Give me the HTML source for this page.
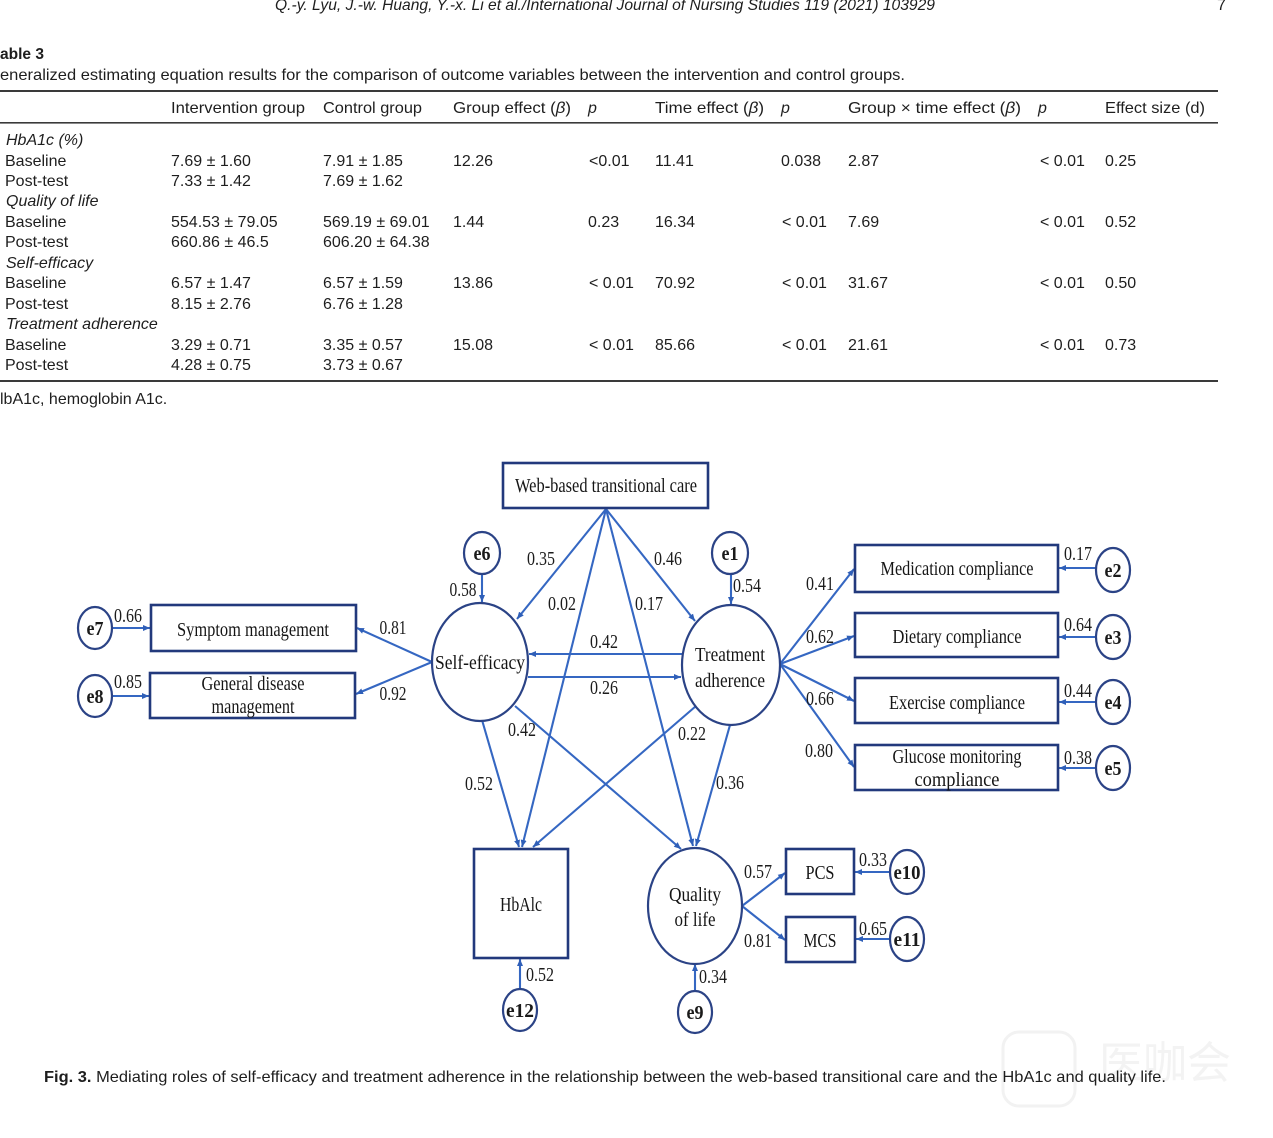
<!DOCTYPE html>
<html>
<head>
<meta charset="utf-8">
<style>
html,body{margin:0;padding:0;background:#fff;}
svg{display:block;}
.t{font-family:"Liberation Sans",sans-serif;font-size:16px;fill:#1e1e1e;}
.i{font-style:italic;}
.d{font-family:"Liberation Serif",serif;font-size:20px;fill:#151515;}
.n{font-family:"Liberation Serif",serif;font-size:20px;fill:#1c1c1c;}
.e{font-family:"Liberation Serif",serif;font-size:20px;font-weight:bold;fill:#1a1a1a;}
.ln{stroke:#3567c2;stroke-width:2.1;fill:none;}
.bx{stroke:#22397c;stroke-width:2.6;fill:#fff;}
.el{stroke:#2b4386;stroke-width:2.2;fill:#fff;}
</style>
</head>
<body>
<svg width="1273" height="1138" viewBox="0 0 1273 1138" xmlns="http://www.w3.org/2000/svg">
<defs>
<marker id="ah" markerWidth="8" markerHeight="8" refX="7" refY="4" orient="auto" markerUnits="userSpaceOnUse">
<path d="M0,1 L7,4 L0,7 z" fill="#2f5fb8"/>
</marker>
</defs>

<!-- Page header -->
<text class="t i" x="275" y="10" font-size="15" textLength="660" lengthAdjust="spacingAndGlyphs">Q.-y. Lyu, J.-w. Huang, Y.-x. Li et al./International Journal of Nursing Studies 119 (2021) 103929</text>
<text class="t" x="1217" y="10" font-size="15">7</text>

<text class="t" x="0" y="59" font-weight="bold" font-size="15" textLength="44" lengthAdjust="spacingAndGlyphs">able 3</text>
<text class="t" x="0" y="80" textLength="905" lengthAdjust="spacingAndGlyphs">eneralized estimating equation results for the comparison of outcome variables between the intervention and control groups.</text>

<!-- Table rules -->
<rect x="0" y="90" width="1218" height="2" fill="#3a3a3a"/>
<rect x="0" y="122" width="1218" height="1.6" fill="#3a3a3a"/>
<rect x="0" y="380" width="1218" height="2" fill="#3a3a3a"/>

<!-- Header -->
<text class="t" x="171" y="113" textLength="134" lengthAdjust="spacingAndGlyphs">Intervention group</text>
<text class="t" x="323" y="113" textLength="99" lengthAdjust="spacingAndGlyphs">Control group</text>
<text class="t" x="453" y="113" textLength="118" lengthAdjust="spacingAndGlyphs">Group effect (<tspan class="i">β</tspan>)</text>
<text class="t i" x="588" y="113">p</text>
<text class="t" x="655" y="113" textLength="109" lengthAdjust="spacingAndGlyphs">Time effect (<tspan class="i">β</tspan>)</text>
<text class="t i" x="781" y="113">p</text>
<text class="t" x="848" y="113" textLength="173" lengthAdjust="spacingAndGlyphs">Group × time effect (<tspan class="i">β</tspan>)</text>
<text class="t i" x="1038" y="113">p</text>
<text class="t" x="1105" y="113" textLength="100" lengthAdjust="spacingAndGlyphs">Effect size (d)</text>

<!-- Rows -->
<text class="t i" x="6" y="145">HbA1c (%)</text>
<text class="t" x="5" y="166">Baseline</text>
<text class="t" x="171" y="166">7.69 ± 1.60</text>
<text class="t" x="323" y="166">7.91 ± 1.85</text>
<text class="t" x="453" y="166">12.26</text>
<text class="t" x="589" y="166">&lt;0.01</text>
<text class="t" x="655" y="166">11.41</text>
<text class="t" x="781" y="166">0.038</text>
<text class="t" x="848" y="166">2.87</text>
<text class="t" x="1040" y="166">&lt; 0.01</text>
<text class="t" x="1105" y="166">0.25</text>
<text class="t" x="5" y="186">Post-test</text>
<text class="t" x="171" y="186">7.33 ± 1.42</text>
<text class="t" x="323" y="186">7.69 ± 1.62</text>

<text class="t i" x="6" y="206">Quality of life</text>
<text class="t" x="5" y="227">Baseline</text>
<text class="t" x="171" y="227">554.53 ± 79.05</text>
<text class="t" x="323" y="227">569.19 ± 69.01</text>
<text class="t" x="453" y="227">1.44</text>
<text class="t" x="588" y="227">0.23</text>
<text class="t" x="655" y="227">16.34</text>
<text class="t" x="782" y="227">&lt; 0.01</text>
<text class="t" x="848" y="227">7.69</text>
<text class="t" x="1040" y="227">&lt; 0.01</text>
<text class="t" x="1105" y="227">0.52</text>
<text class="t" x="5" y="247">Post-test</text>
<text class="t" x="171" y="247">660.86 ± 46.5</text>
<text class="t" x="323" y="247">606.20 ± 64.38</text>

<text class="t i" x="6" y="268">Self-efficacy</text>
<text class="t" x="5" y="288">Baseline</text>
<text class="t" x="171" y="288">6.57 ± 1.47</text>
<text class="t" x="323" y="288">6.57 ± 1.59</text>
<text class="t" x="453" y="288">13.86</text>
<text class="t" x="589" y="288">&lt; 0.01</text>
<text class="t" x="655" y="288">70.92</text>
<text class="t" x="782" y="288">&lt; 0.01</text>
<text class="t" x="848" y="288">31.67</text>
<text class="t" x="1040" y="288">&lt; 0.01</text>
<text class="t" x="1105" y="288">0.50</text>
<text class="t" x="5" y="309">Post-test</text>
<text class="t" x="171" y="309">8.15 ± 2.76</text>
<text class="t" x="323" y="309">6.76 ± 1.28</text>

<text class="t i" x="6" y="329">Treatment adherence</text>
<text class="t" x="5" y="350">Baseline</text>
<text class="t" x="171" y="350">3.29 ± 0.71</text>
<text class="t" x="323" y="350">3.35 ± 0.57</text>
<text class="t" x="453" y="350">15.08</text>
<text class="t" x="589" y="350">&lt; 0.01</text>
<text class="t" x="655" y="350">85.66</text>
<text class="t" x="782" y="350">&lt; 0.01</text>
<text class="t" x="848" y="350">21.61</text>
<text class="t" x="1040" y="350">&lt; 0.01</text>
<text class="t" x="1105" y="350">0.73</text>
<text class="t" x="5" y="370">Post-test</text>
<text class="t" x="171" y="370">4.28 ± 0.75</text>
<text class="t" x="323" y="370">3.73 ± 0.67</text>

<text class="t" x="0" y="404">lbA1c, hemoglobin A1c.</text>

<!-- ===== Diagram connectors ===== -->
<g class="ln" marker-end="url(#ah)">
<line x1="606" y1="509" x2="517" y2="619"/>
<line x1="606" y1="509" x2="695" y2="621"/>
<line x1="606" y1="509" x2="522" y2="847"/>
<line x1="606" y1="509" x2="693" y2="846"/>
<line x1="682" y1="654" x2="529" y2="654"/>
<line x1="528" y1="677" x2="681" y2="677"/>
<line x1="482" y1="574" x2="482" y2="602"/>
<line x1="731" y1="574" x2="731" y2="604"/>
<line x1="432" y1="662" x2="357" y2="628"/>
<line x1="432" y1="662" x2="356" y2="694"/>
<line x1="112" y1="628" x2="150" y2="628"/>
<line x1="112" y1="696" x2="149" y2="696"/>
<line x1="780" y1="664" x2="854" y2="569"/>
<line x1="780" y1="664" x2="854" y2="636"/>
<line x1="780" y1="664" x2="854" y2="701"/>
<line x1="780" y1="664" x2="854" y2="767"/>
<line x1="1096" y1="568" x2="1059" y2="568"/>
<line x1="1096" y1="637" x2="1059" y2="637"/>
<line x1="1096" y1="702" x2="1059" y2="702"/>
<line x1="1096" y1="768" x2="1059" y2="768"/>
<line x1="482" y1="720" x2="519" y2="847"/>
<line x1="696" y1="706" x2="533" y2="847"/>
<line x1="515" y1="706" x2="681" y2="849"/>
<line x1="730" y1="725" x2="696" y2="846"/>
<line x1="742" y1="906" x2="785" y2="873"/>
<line x1="742" y1="906" x2="785" y2="940"/>
<line x1="890" y1="872" x2="855" y2="872"/>
<line x1="890" y1="939" x2="856" y2="939"/>
<line x1="520" y1="989" x2="520" y2="959"/>
<line x1="695" y1="991" x2="695" y2="964"/>
</g>

<!-- ===== Boxes ===== -->
<rect class="bx" x="503" y="463" width="205" height="45"/>
<rect class="bx" x="151" y="605" width="205" height="46"/>
<rect class="bx" x="150" y="673" width="205" height="45"/>
<rect class="bx" x="855" y="545" width="203" height="47"/>
<rect class="bx" x="855" y="613" width="203" height="44"/>
<rect class="bx" x="855" y="678" width="203" height="45"/>
<rect class="bx" x="855" y="745" width="203" height="45"/>
<rect class="bx" x="474" y="849" width="94" height="109"/>
<rect class="bx" x="786" y="849" width="68" height="45"/>
<rect class="bx" x="786" y="917" width="69" height="45"/>

<!-- ===== Ellipses ===== -->
<ellipse class="el" cx="480" cy="662" rx="48" ry="59"/>
<ellipse class="el" cx="731" cy="665" rx="49" ry="60"/>
<ellipse class="el" cx="695" cy="906" rx="47" ry="58"/>
<ellipse class="el" cx="482" cy="553" rx="18" ry="21"/>
<ellipse class="el" cx="730" cy="553" rx="18" ry="21"/>
<ellipse class="el" cx="95" cy="628" rx="17" ry="21"/>
<ellipse class="el" cx="95" cy="696" rx="17" ry="21"/>
<ellipse class="el" cx="1113" cy="570" rx="17" ry="22"/>
<ellipse class="el" cx="1113" cy="637" rx="17" ry="22"/>
<ellipse class="el" cx="1113" cy="702" rx="17" ry="22"/>
<ellipse class="el" cx="1113" cy="768" rx="17" ry="22"/>
<ellipse class="el" cx="907" cy="872" rx="17" ry="22"/>
<ellipse class="el" cx="907" cy="939" rx="17" ry="22"/>
<ellipse class="el" cx="520" cy="1010" rx="17" ry="21"/>
<ellipse class="el" cx="695" cy="1012" rx="17" ry="21"/>

<!-- ===== Node labels ===== -->
<g text-anchor="middle">
<text class="d" x="606" y="492" textLength="182" lengthAdjust="spacingAndGlyphs">Web-based transitional care</text>
<text class="d" x="253" y="636" textLength="152" lengthAdjust="spacingAndGlyphs">Symptom management</text>
<text class="d" x="253" y="690" textLength="103" lengthAdjust="spacingAndGlyphs">General disease</text>
<text class="d" x="253" y="713" textLength="83" lengthAdjust="spacingAndGlyphs">management</text>
<text class="d" x="480" y="669" textLength="90" lengthAdjust="spacingAndGlyphs">Self-efficacy</text>
<text class="d" x="730" y="661" textLength="70" lengthAdjust="spacingAndGlyphs">Treatment</text>
<text class="d" x="730" y="687" textLength="70" lengthAdjust="spacingAndGlyphs">adherence</text>
<text class="d" x="957" y="575" textLength="153" lengthAdjust="spacingAndGlyphs">Medication compliance</text>
<text class="d" x="957" y="643" textLength="129" lengthAdjust="spacingAndGlyphs">Dietary compliance</text>
<text class="d" x="957" y="709" textLength="136" lengthAdjust="spacingAndGlyphs">Exercise compliance</text>
<text class="d" x="957" y="763" textLength="129" lengthAdjust="spacingAndGlyphs">Glucose monitoring</text>
<text class="d" x="957" y="786" textLength="85" lengthAdjust="spacingAndGlyphs">compliance</text>
<text class="d" x="521" y="911" textLength="42" lengthAdjust="spacingAndGlyphs">HbAlc</text>
<text class="d" x="695" y="901" textLength="52" lengthAdjust="spacingAndGlyphs">Quality</text>
<text class="d" x="695" y="926" textLength="41" lengthAdjust="spacingAndGlyphs">of life</text>
<text class="d" x="820" y="879" textLength="29" lengthAdjust="spacingAndGlyphs">PCS</text>
<text class="d" x="820" y="947" textLength="33" lengthAdjust="spacingAndGlyphs">MCS</text>

<text class="e" x="482" y="560" textLength="17" lengthAdjust="spacingAndGlyphs">e6</text>
<text class="e" x="730" y="560" textLength="17" lengthAdjust="spacingAndGlyphs">e1</text>
<text class="e" x="95" y="635" textLength="17" lengthAdjust="spacingAndGlyphs">e7</text>
<text class="e" x="95" y="703" textLength="17" lengthAdjust="spacingAndGlyphs">e8</text>
<text class="e" x="1113" y="577" textLength="17" lengthAdjust="spacingAndGlyphs">e2</text>
<text class="e" x="1113" y="644" textLength="17" lengthAdjust="spacingAndGlyphs">e3</text>
<text class="e" x="1113" y="709" textLength="17" lengthAdjust="spacingAndGlyphs">e4</text>
<text class="e" x="1113" y="775" textLength="17" lengthAdjust="spacingAndGlyphs">e5</text>
<text class="e" x="907" y="879" textLength="27" lengthAdjust="spacingAndGlyphs">e10</text>
<text class="e" x="907" y="946" textLength="27" lengthAdjust="spacingAndGlyphs">e11</text>
<text class="e" x="520" y="1017" textLength="28" lengthAdjust="spacingAndGlyphs">e12</text>
<text class="e" x="695" y="1019" textLength="17" lengthAdjust="spacingAndGlyphs">e9</text>

<!-- coefficient labels -->
<text class="n" x="128" y="622" textLength="28" lengthAdjust="spacingAndGlyphs">0.66</text>
<text class="n" x="128" y="688" textLength="28" lengthAdjust="spacingAndGlyphs">0.85</text>
<text class="n" x="393" y="634" textLength="27" lengthAdjust="spacingAndGlyphs">0.81</text>
<text class="n" x="393" y="700" textLength="27" lengthAdjust="spacingAndGlyphs">0.92</text>
<text class="n" x="463" y="596" textLength="27" lengthAdjust="spacingAndGlyphs">0.58</text>
<text class="n" x="541" y="565" textLength="28" lengthAdjust="spacingAndGlyphs">0.35</text>
<text class="n" x="668" y="565" textLength="28" lengthAdjust="spacingAndGlyphs">0.46</text>
<text class="n" x="562" y="610" textLength="28" lengthAdjust="spacingAndGlyphs">0.02</text>
<text class="n" x="649" y="610" textLength="28" lengthAdjust="spacingAndGlyphs">0.17</text>
<text class="n" x="747" y="592" textLength="28" lengthAdjust="spacingAndGlyphs">0.54</text>
<text class="n" x="604" y="648" textLength="28" lengthAdjust="spacingAndGlyphs">0.42</text>
<text class="n" x="604" y="694" textLength="28" lengthAdjust="spacingAndGlyphs">0.26</text>
<text class="n" x="522" y="736" textLength="28" lengthAdjust="spacingAndGlyphs">0.42</text>
<text class="n" x="692" y="740" textLength="28" lengthAdjust="spacingAndGlyphs">0.22</text>
<text class="n" x="820" y="590" textLength="28" lengthAdjust="spacingAndGlyphs">0.41</text>
<text class="n" x="820" y="643" textLength="28" lengthAdjust="spacingAndGlyphs">0.62</text>
<text class="n" x="820" y="705" textLength="28" lengthAdjust="spacingAndGlyphs">0.66</text>
<text class="n" x="819" y="757" textLength="28" lengthAdjust="spacingAndGlyphs">0.80</text>
<text class="n" x="1078" y="560" textLength="28" lengthAdjust="spacingAndGlyphs">0.17</text>
<text class="n" x="1078" y="631" textLength="28" lengthAdjust="spacingAndGlyphs">0.64</text>
<text class="n" x="1078" y="697" textLength="28" lengthAdjust="spacingAndGlyphs">0.44</text>
<text class="n" x="1078" y="764" textLength="28" lengthAdjust="spacingAndGlyphs">0.38</text>
<text class="n" x="479" y="790" textLength="28" lengthAdjust="spacingAndGlyphs">0.52</text>
<text class="n" x="730" y="789" textLength="28" lengthAdjust="spacingAndGlyphs">0.36</text>
<text class="n" x="758" y="878" textLength="28" lengthAdjust="spacingAndGlyphs">0.57</text>
<text class="n" x="758" y="947" textLength="28" lengthAdjust="spacingAndGlyphs">0.81</text>
<text class="n" x="873" y="866" textLength="28" lengthAdjust="spacingAndGlyphs">0.33</text>
<text class="n" x="873" y="935" textLength="28" lengthAdjust="spacingAndGlyphs">0.65</text>
<text class="n" x="540" y="981" textLength="28" lengthAdjust="spacingAndGlyphs">0.52</text>
<text class="n" x="713" y="983" textLength="28" lengthAdjust="spacingAndGlyphs">0.34</text>
</g>

<!-- Watermark (faint) -->
<rect x="1003" y="1032" width="72" height="74" rx="16" fill="none" stroke="#f2f2f2" stroke-width="3"/>
<text x="1165" y="1078" text-anchor="middle" font-family="'Liberation Sans','Noto Sans CJK SC',sans-serif" font-size="44" fill="#f3f3f3">医咖会</text>

<!-- Caption -->
<text class="t" x="44" y="1082" textLength="1122" lengthAdjust="spacingAndGlyphs"><tspan font-weight="bold">Fig. 3.</tspan>  Mediating roles of self-efficacy and treatment adherence in the relationship between the web-based transitional care and the HbA1c and quality life.</text>
</svg>
</body>
</html>
